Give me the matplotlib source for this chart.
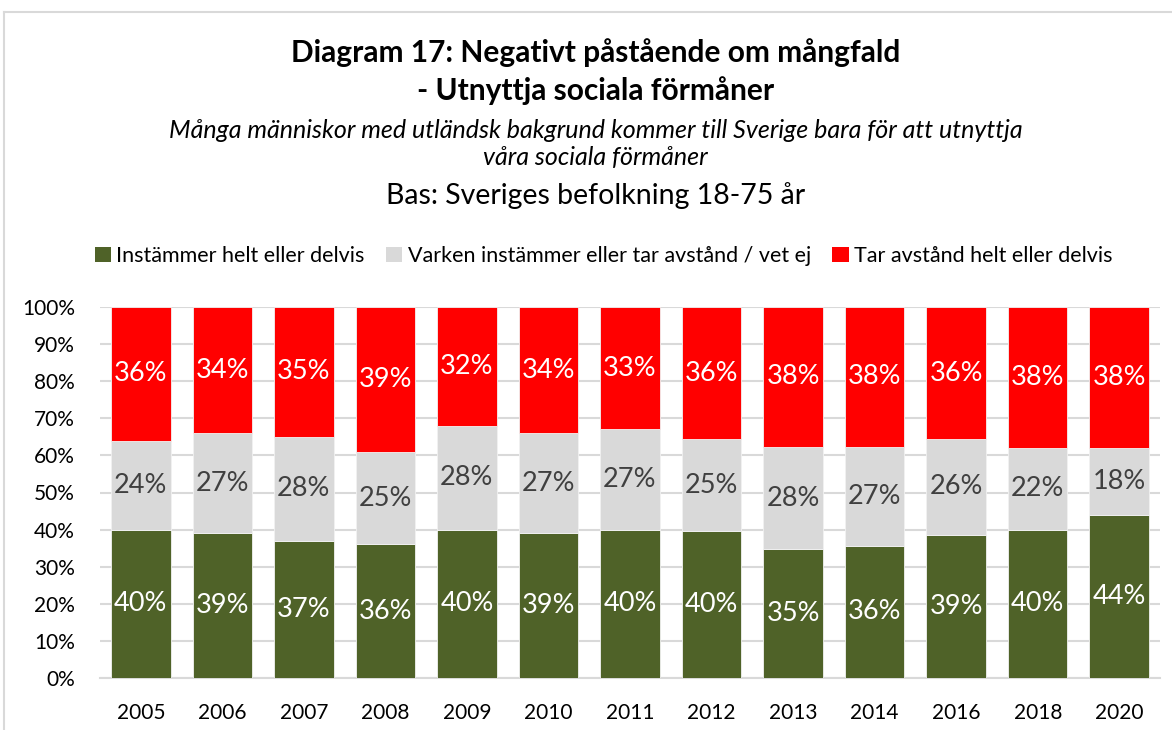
import matplotlib
matplotlib.use('Agg')
import matplotlib.pyplot as plt
from matplotlib.patches import Patch
from matplotlib.lines import Line2D
import numpy as np

plt.rcParams['font.family'] = ['Lato', 'DejaVu Sans']

years = ['2005', '2006', '2007', '2008', '2009', '2010', '2011',
         '2012', '2013', '2014', '2016', '2018', '2020']
agree = [40, 39, 37, 36, 40, 39, 40, 40, 35, 36, 39, 40, 44]
neutral = [24, 27, 28, 25, 28, 27, 27, 25, 28, 27, 26, 22, 18]
disagree = [36, 34, 35, 39, 32, 34, 33, 36, 38, 38, 36, 38, 38]

series_names = ['Instämmer helt eller delvis',
                'Varken instämmer eller tar avstånd / vet ej',
                'Tar avstånd helt eller delvis']
colors = ['#4F6228', '#D9D9D9', '#FF0000']
label_colors = ['white', '#404040', 'white']

W, H = 1172, 730
fig = plt.figure(figsize=(W / 100, H / 100), dpi=100)

def fy(py):
  return 1 - py / H

# chart frame (cut off by the image edges)
fig.add_artist(Line2D([4 / W, 1.0], [fy(12), fy(12)], color='#D9D9D9', lw=1.5))
fig.add_artist(Line2D([4 / W, 4 / W], [fy(12), 0.0], color='#D9D9D9', lw=1.5))

fig.text(0.508, fy(53), 'Diagram 17: Negativt påstående om mångfald',
         ha='center', va='center', fontsize=21.5, fontweight='bold')
fig.text(0.508, fy(91), '- Utnyttja sociala förmåner',
         ha='center', va='center', fontsize=21.5, fontweight='bold')
fig.text(0.508, fy(131), 'Många människor med utländsk bakgrund kommer till Sverige bara för att utnyttja',
         ha='center', va='center', fontsize=18, style='italic')
fig.text(0.508, fy(158), 'våra sociala förmåner',
         ha='center', va='center', fontsize=18, style='italic')
fig.text(0.508, fy(196), 'Bas: Sveriges befolkning 18-75 år',
         ha='center', va='center', fontsize=20.5)

ax = fig.add_axes([100 / W, fy(678), 1060 / W, (678 - 307) / H])

data = np.array([agree, neutral, disagree], dtype=float)
shares = data / data.sum(axis=0) * 100
x = np.arange(len(years))
bottom = np.zeros(len(years))
for i in range(3):
  ax.bar(x, shares[i], 0.73, bottom=bottom, color=colors[i],
         edgecolor='#F2F2F2', linewidth=0.6, zorder=3)
  for j in range(len(years)):
    ax.text(x[j], bottom[j] + shares[i][j] / 2, '%d%%' % data[i][j],
            ha='center', va='center', color=label_colors[i], fontsize=19.5, zorder=4)
  bottom += shares[i]

ax.set_xlim(-0.5, len(years) - 0.5)
ax.set_ylim(0, 100)
ax.set_yticks(np.arange(0, 101, 10))
ax.set_yticklabels(['%d%%' % v for v in range(0, 101, 10)])
ax.set_xticks(x)
ax.set_xticklabels(years)
ax.tick_params(axis='both', length=0, labelsize=15, colors='black')
ax.tick_params(axis='x', pad=18)
ax.tick_params(axis='y', pad=18)
ax.yaxis.grid(True, color='#D9D9D9', lw=1.5, zorder=0)
for s in ['top', 'right', 'left']:
  ax.spines[s].set_visible(False)
ax.spines['bottom'].set_color('#D9D9D9')
ax.spines['bottom'].set_linewidth(1.5)

handles = [Patch(facecolor=c, edgecolor='none') for c in colors]
fig.legend(handles, series_names, loc='center', bbox_to_anchor=(0.515, fy(256)),
           ncol=3, frameon=False, fontsize=15.5, handlelength=0.75, handleheight=0.75,
           handletextpad=0.25, columnspacing=1.0)

fig.savefig('out.png', dpi=100)
